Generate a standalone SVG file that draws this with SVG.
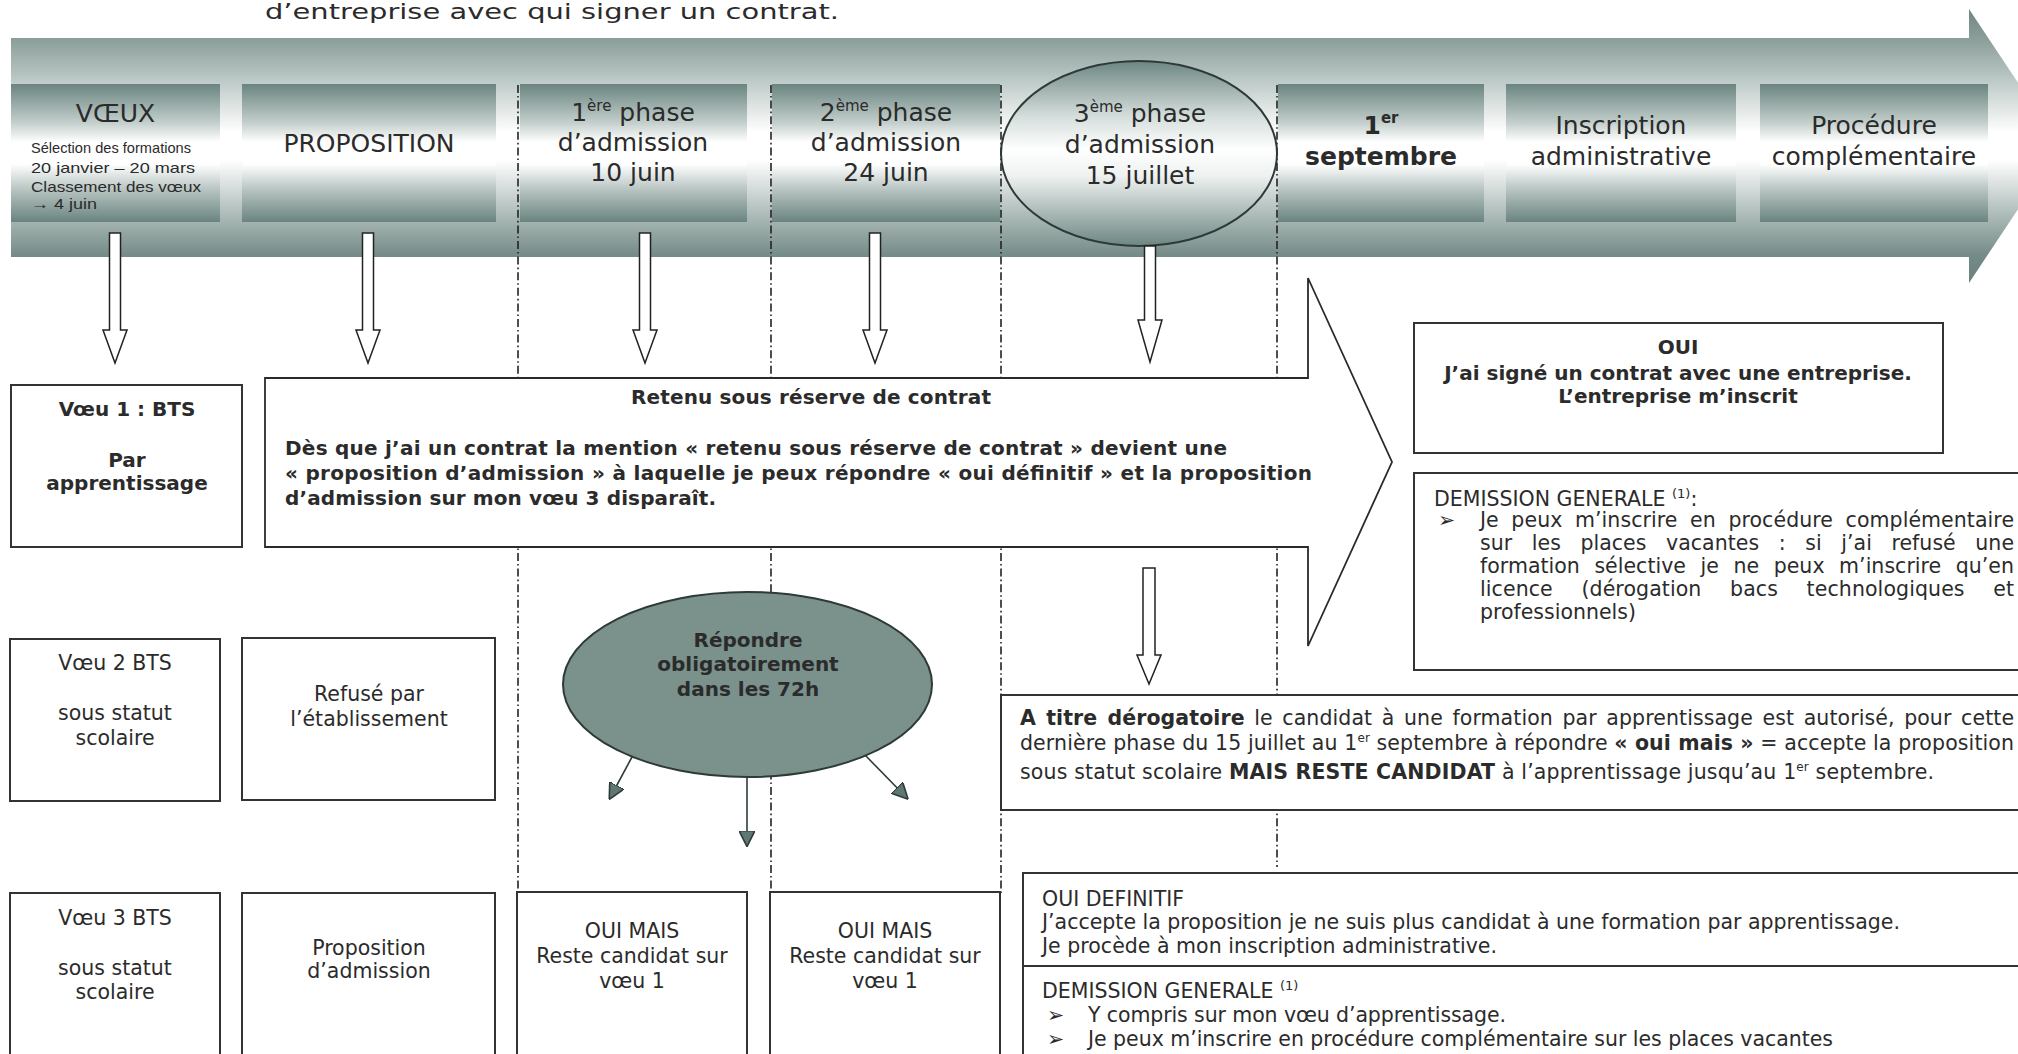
<svg xmlns="http://www.w3.org/2000/svg" width="2018" height="1054" viewBox="0 0 2018 1054">
<defs>
<linearGradient id="bandGrad" gradientUnits="userSpaceOnUse" x1="0" y1="9" x2="0" y2="283">
<stop offset="0" stop-color="#6f8682"/>
<stop offset="0.106" stop-color="#8a9d99"/>
<stop offset="0.28" stop-color="#c3cfcc"/>
<stop offset="0.45" stop-color="#ffffff"/>
<stop offset="0.55" stop-color="#ffffff"/>
<stop offset="0.77" stop-color="#a5b5b2"/>
<stop offset="0.9" stop-color="#758b87"/>
<stop offset="1" stop-color="#6a807c"/>
</linearGradient>
<linearGradient id="boxGrad" x1="0" y1="0" x2="0" y2="1">
<stop offset="0" stop-color="#6a8480"/>
<stop offset="0.28" stop-color="#c3cfcc"/>
<stop offset="0.42" stop-color="#ffffff"/>
<stop offset="0.58" stop-color="#ffffff"/>
<stop offset="0.78" stop-color="#b2c0bd"/>
<stop offset="1" stop-color="#6a8480"/>
</linearGradient>
<linearGradient id="circGrad" x1="0" y1="0" x2="0" y2="1">
<stop offset="0" stop-color="#6d8682"/>
<stop offset="0.3" stop-color="#d5dedc"/>
<stop offset="0.48" stop-color="#ffffff"/>
<stop offset="0.62" stop-color="#eef2f1"/>
<stop offset="1" stop-color="#6d8682"/>
</linearGradient>
<marker id="tri" viewBox="0 0 10 10" refX="9" refY="5" markerWidth="16" markerHeight="16" markerUnits="userSpaceOnUse" orient="auto">
<path d="M0,0 L10,5 L0,10 Z" fill="#5f7873" stroke="#2f3b38" stroke-width="1"/>
</marker>
</defs>
<style>
.t{font-family:"DejaVu Sans",Verdana,sans-serif;fill:#2b2b2b}
.b{font-weight:bold}
.c{text-anchor:middle}
.hd{font-size:25px}
.bd{font-size:20px}
.rg{font-size:20.5px}
.sm{font-family:"Liberation Sans",Arial,sans-serif;font-size:15px;fill:#2b2b2b}
.box{fill:#ffffff;stroke:#333333;stroke-width:2}
.topbox{fill:url(#boxGrad)}
.dash{fill:none;stroke:#222222;stroke-width:1.6;stroke-dasharray:8 3 1.6 3}
.hollow{fill:#ffffff;stroke:#222222;stroke-width:1.5}
.thin{fill:none;stroke:#2f3b38;stroke-width:1.6}
</style>

<text class="t" x="265" y="19" font-size="22" fill="#3a3a3a" textLength="574" lengthAdjust="spacingAndGlyphs">d’entreprise avec qui signer un contrat.</text>

<g id="timeline">
<polygon points="11,38 1969,38 1969,9 2060,146 1969,283 1969,257 11,257" fill="url(#bandGrad)"/>
</g>

<g id="n-voeux">
<rect class="topbox" x="11" y="84" width="209" height="138"/>
<text class="t c hd" x="115.5" y="122">VŒUX</text>
<text class="sm" x="31" y="153" textLength="160" lengthAdjust="spacingAndGlyphs">Sélection des formations</text>
<text class="sm" x="31" y="173" textLength="164" lengthAdjust="spacingAndGlyphs">20 janvier – 20 mars</text>
<text class="sm" x="31" y="192" textLength="170" lengthAdjust="spacingAndGlyphs">Classement des vœux</text>
<text class="sm" x="31" y="209" textLength="66" lengthAdjust="spacingAndGlyphs">→ 4 juin</text>
</g>
<g id="n-proposition">
<rect class="topbox" x="242" y="84" width="254" height="138"/>
<text class="t c hd" x="369" y="152">PROPOSITION</text>
</g>
<g id="n-phase1">
<rect class="topbox" x="520" y="84" width="227" height="138"/>
<text class="t c hd" x="633" y="121">1<tspan dy="-10" font-size="15">ère</tspan><tspan dy="10"> phase</tspan></text>
<text class="t c hd" x="633" y="151">d’admission</text>
<text class="t c hd" x="633" y="181">10 juin</text>
</g>
<g id="n-phase2">
<rect class="topbox" x="772" y="84" width="228" height="138"/>
<text class="t c hd" x="886" y="121">2<tspan dy="-10" font-size="15">ème</tspan><tspan dy="10"> phase</tspan></text>
<text class="t c hd" x="886" y="151">d’admission</text>
<text class="t c hd" x="886" y="181">24 juin</text>
</g>
<g id="n-sept">
<rect class="topbox" x="1278" y="84" width="206" height="138"/>
<text class="t c hd b" x="1381" y="134">1<tspan dy="-11" font-size="15">er</tspan></text>
<text class="t c hd b" x="1381" y="165">septembre</text>
</g>
<g id="n-inscription">
<rect class="topbox" x="1506" y="84" width="230" height="138"/>
<text class="t c hd" x="1621" y="134">Inscription</text>
<text class="t c hd" x="1621" y="165">administrative</text>
</g>
<g id="n-procedure">
<rect class="topbox" x="1760" y="84" width="228" height="138"/>
<text class="t c hd" x="1874" y="134">Procédure</text>
<text class="t c hd" x="1874" y="165">complémentaire</text>
</g>

<g id="separators">
<line class="dash" x1="518" y1="85" x2="518" y2="892"/>
<line class="dash" x1="771" y1="85" x2="771" y2="892"/>
<line class="dash" x1="1001" y1="85" x2="1001" y2="893"/>
<line class="dash" x1="1277" y1="85" x2="1277" y2="867"/>
</g>

<g id="n-phase3">
<ellipse cx="1139" cy="153.5" rx="138" ry="92.5" fill="url(#circGrad)" stroke="#2e3a37" stroke-width="2"/>
<text class="t c hd" x="1140" y="122">3<tspan dy="-10" font-size="15">ème</tspan><tspan dy="10"> phase</tspan></text>
<text class="t c hd" x="1140" y="153">d’admission</text>
<text class="t c hd" x="1140" y="184">15 juillet</text>
</g>

<g id="connectors">
<path class="hollow" d="M109.5,233 H120.5 V330 H127 L115,363 L103,330 H109.5 Z"/>
<path class="hollow" d="M362.5,233 H373.5 V330 H380 L368,363 L356,330 H362.5 Z"/>
<path class="hollow" d="M639.5,233 H650.5 V330 H657 L645,363 L633,330 H639.5 Z"/>
<path class="hollow" d="M869.5,233 H880.5 V330 H887 L875,363 L863,330 H869.5 Z"/>
<path class="hollow" d="M1144.5,246 H1155.5 V320 H1162 L1150,362 L1138,320 H1144.5 Z"/>
<path class="hollow" d="M1143,568 H1155 V655 H1161 L1149,684 L1137,655 H1143 Z"/>
<line class="thin" x1="632" y1="757" x2="610" y2="798" marker-end="url(#tri)"/>
<line class="thin" x1="747" y1="777" x2="747" y2="845" marker-end="url(#tri)"/>
<line class="thin" x1="865" y1="755" x2="907" y2="798" marker-end="url(#tri)"/>
</g>

<g id="n-retenu">
<polygon points="265,378 1308,378 1308,278 1392,462 1308,646 1308,547 265,547" fill="#ffffff" stroke="#2a2a2a" stroke-width="1.8"/>
<text class="t b bd" x="631" y="404" textLength="360">Retenu sous réserve de contrat</text>
<text class="t b bd" x="285" y="455" textLength="942">Dès que j’ai un contrat la mention « retenu sous réserve de contrat » devient une</text>
<text class="t b bd" x="285" y="480" textLength="1027">« proposition d’admission » à laquelle je peux répondre « oui définitif » et la proposition</text>
<text class="t b bd" x="285" y="505" textLength="431">d’admission sur mon vœu 3 disparaît.</text>
</g>

<g id="n-voeu1">
<rect class="box" x="11" y="385" width="231" height="162"/>
<text class="t c b bd" x="127" y="416">Vœu 1 : BTS</text>
<text class="t c b bd" x="127" y="467">Par</text>
<text class="t c b bd" x="127" y="490">apprentissage</text>
</g>
<g id="n-voeu2">
<rect class="box" x="10" y="639" width="210" height="162"/>
<text class="t c rg" x="115" y="670">Vœu 2 BTS</text>
<text class="t c rg" x="115" y="720">sous statut</text>
<text class="t c rg" x="115" y="745">scolaire</text>
</g>
<g id="n-refuse">
<rect class="box" x="242" y="638" width="253" height="162"/>
<text class="t c rg" x="369" y="701">Refusé par</text>
<text class="t c rg" x="369" y="726">l’établissement</text>
</g>
<g id="n-repondre">
<ellipse cx="747.5" cy="684.5" rx="184.5" ry="92.5" fill="#7a918c" stroke="#2e3a37" stroke-width="2"/>
<text class="t c b bd" x="748" y="647" fill="#34433f">Répondre</text>
<text class="t c b bd" x="748" y="671" fill="#34433f">obligatoirement</text>
<text class="t c b bd" x="748" y="696" fill="#34433f">dans les 72h</text>
</g>
<g id="n-voeu3">
<rect class="box" x="10" y="893" width="210" height="175"/>
<text class="t c rg" x="115" y="925">Vœu 3 BTS</text>
<text class="t c rg" x="115" y="975">sous statut</text>
<text class="t c rg" x="115" y="999">scolaire</text>
</g>
<g id="n-propadm">
<rect class="box" x="242" y="893" width="253" height="175"/>
<text class="t c rg" x="369" y="955">Proposition</text>
<text class="t c rg" x="369" y="978">d’admission</text>
</g>
<g id="n-ouimais1">
<rect class="box" x="517" y="892" width="230" height="176"/>
<text class="t c rg" x="632" y="938">OUI MAIS</text>
<text class="t c rg" x="632" y="963">Reste candidat sur</text>
<text class="t c rg" x="632" y="988">vœu 1</text>
</g>
<g id="n-ouimais2">
<rect class="box" x="770" y="892" width="230" height="176"/>
<text class="t c rg" x="885" y="938">OUI MAIS</text>
<text class="t c rg" x="885" y="963">Reste candidat sur</text>
<text class="t c rg" x="885" y="988">vœu 1</text>
</g>

<g id="n-oui">
<rect class="box" x="1414" y="323" width="529" height="130"/>
<text class="t c b bd" x="1678" y="354">OUI</text>
<text class="t c b bd" x="1678" y="380">J’ai signé un contrat avec une entreprise.</text>
<text class="t c b bd" x="1678" y="403">L’entreprise m’inscrit</text>
</g>
<g id="n-demission1">
<rect class="box" x="1414" y="473" width="620" height="197"/>
<text class="t rg" x="1434" y="506">DEMISSION GENERALE <tspan dy="-8" font-size="13">(1)</tspan><tspan dy="8">:</tspan></text>
<text class="t rg" x="1438" y="527" font-size="24">➢</text>
<text class="t rg" x="1480" y="527" word-spacing="6" textLength="534">Je peux m’inscrire en procédure complémentaire</text>
<text class="t rg" x="1480" y="550" word-spacing="13" textLength="534">sur les places vacantes : si j’ai refusé une</text>
<text class="t rg" x="1480" y="573" word-spacing="8" textLength="534">formation sélective je ne peux m’inscrire qu’en</text>
<text class="t rg" x="1480" y="596" word-spacing="22" textLength="534">licence (dérogation bacs technologiques et</text>
<text class="t rg" x="1480" y="619">professionnels)</text>
</g>
<g id="n-derogatoire">
<rect class="box" x="1001" y="695" width="1030" height="115"/>
<text class="t rg" x="1020" y="725" word-spacing="3" textLength="994"><tspan font-weight="bold">A titre dérogatoire</tspan> le candidat à une formation par apprentissage est autorisé, pour cette</text>
<text class="t rg" x="1020" y="750" textLength="994">dernière phase du 15 juillet au 1<tspan dy="-8" font-size="12">er</tspan><tspan dy="8"> septembre à répondre </tspan><tspan font-weight="bold">« oui mais »</tspan> = accepte la proposition</text>
<text class="t rg" x="1020" y="779" textLength="914">sous statut scolaire <tspan font-weight="bold">MAIS RESTE CANDIDAT</tspan> à l’apprentissage jusqu’au 1<tspan dy="-8" font-size="12">er</tspan><tspan dy="8">  septembre.</tspan></text>
</g>
<g id="n-ouidefinitif">
<rect class="box" x="1023" y="873" width="1010" height="93"/>
<text class="t rg" x="1042" y="906">OUI DEFINITIF</text>
<text class="t rg" x="1042" y="929" textLength="858">J’accepte la proposition je ne suis plus candidat à une formation par apprentissage.</text>
<text class="t rg" x="1042" y="953" textLength="455">Je procède à mon inscription administrative.</text>
</g>
<g id="n-demission2">
<rect class="box" x="1023" y="966" width="1010" height="100"/>
<text class="t rg" x="1042" y="998">DEMISSION GENERALE <tspan dy="-8" font-size="13">(1)</tspan></text>
<text class="t rg" x="1047" y="1022" font-size="24">➢</text>
<text class="t rg" x="1088" y="1022" textLength="418">Y compris sur mon vœu d’apprentissage.</text>
<text class="t rg" x="1047" y="1046" font-size="24">➢</text>
<text class="t rg" x="1088" y="1046" textLength="745">Je peux m’inscrire en procédure complémentaire sur les places vacantes</text>
</g>
</svg>
